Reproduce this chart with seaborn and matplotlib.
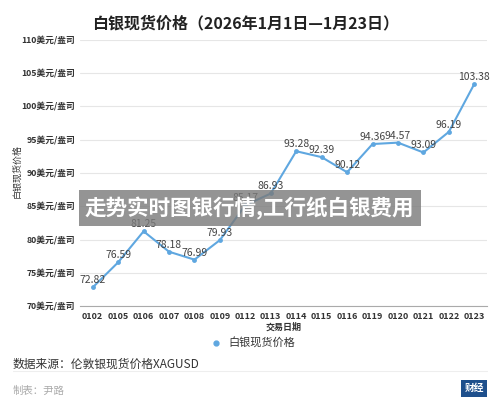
import matplotlib
matplotlib.use('Agg')
import matplotlib.pyplot as plt
import seaborn as sns
import pandas as pd
from matplotlib.lines import Line2D

sns.set_style('white')
plt.rcParams['font.family'] = ['Noto Sans CJK SC', 'DejaVu Sans']

dates = ['0102', '0105', '0106', '0107', '0108', '0109', '0112', '0113',
         '0114', '0115', '0116', '0119', '0120', '0121', '0122', '0123']
prices = [72.82, 76.59, 81.25, 78.18, 76.99, 79.93, 85.17, 86.93,
          93.28, 92.39, 90.12, 94.36, 94.57, 93.09, 96.19, 103.38]
yticks = [70, 75, 80, 85, 90, 95, 100, 105, 110]

df = pd.DataFrame({'date': dates, 'price': prices})
df['idx'] = range(len(df))

blue = '#5fa7e0'

fig = plt.figure(figsize=(5, 4.16), dpi=100)
ax = fig.add_axes([0.16, 0.264, 0.814, 0.64])

sns.lineplot(data=df, x='idx', y='price', ax=ax, color=blue, linewidth=1.5,
             marker='o', markersize=3.5, markeredgewidth=0, zorder=3)

for i, v in zip(df['idx'], df['price']):
    ax.annotate(f'{v:.2f}', (i, v), xytext=(0, 1.5), textcoords='offset points',
                ha='center', va='bottom', fontsize=7.5, color='#444444', zorder=4)

ax.set_xlim(-0.5, len(dates) - 0.5)
ax.set_ylim(70, 110)
ax.set_yticks(yticks)
ax.set_yticklabels([f'{t}美元/盎司' for t in yticks], fontsize=6.3,
                   fontweight='bold', color='#333333')
ax.set_xticks(df['idx'])
ax.set_xticklabels(dates, fontsize=6.5, fontweight='bold', color='#333333')
ax.grid(axis='y', color='#e6e6e6', linewidth=0.8)
for s in ['top', 'right', 'left']:
    ax.spines[s].set_visible(False)
ax.spines['bottom'].set_color('#aaaaaa')
ax.spines['bottom'].set_linewidth(0.8)
ax.tick_params(axis='x', length=2, color='#aaaaaa', pad=2)
ax.tick_params(axis='y', length=0, pad=3.5)
ax.set_xlabel('交易日期', fontsize=6.5, fontweight='bold', color='#333333', labelpad=1)
ax.set_ylabel('')

fig.text(0.034, 0.59, '白银现货价格', rotation=90, fontsize=6.5, color='#333333',
         ha='center', va='center')

fig.text(0.492, 0.943, '白银现货价格（2026年1月1日—1月23日）', fontsize=11.5,
         fontweight='bold', color='#222222', ha='center', va='center')

handle = Line2D([], [], color=blue, marker='o', linestyle='', markersize=3.5)
fig.legend([handle], ['白银现货价格'], loc='center', bbox_to_anchor=(0.5, 0.175),
           frameon=False, fontsize=8, handletextpad=0.2, labelcolor='#333333')

fig.text(0.026, 0.125, '数据来源：伦敦银现货价格XAGUSD', fontsize=8.5,
         color='#333333', va='center')
fig.add_artist(Line2D([0.026, 0.974], [0.108, 0.108], color='#eeeeee', linewidth=0.8))
fig.text(0.026, 0.06, '制表：尹路', fontsize=7.5, color='#aaaaaa', va='center')

fig.text(0.948, 0.067, '财经', fontsize=7, color='white', fontweight='bold',
         ha='center', va='center',
         bbox=dict(boxstyle='square,pad=0.35', facecolor='#1e4f8c', edgecolor='none'))

# grey overlay banner, semi-transparent like the reference
fig.text(0.17, 0.5, '走势实时图银行情,工行纸白银费用', fontsize=15.5,
         fontweight='bold', color='white', ha='left', va='center',
         bbox=dict(boxstyle='square,pad=0.3', facecolor='#7a7a7a',
                   edgecolor='none', alpha=0.8), zorder=10)

fig.savefig('out.png', dpi=100, facecolor='white')
